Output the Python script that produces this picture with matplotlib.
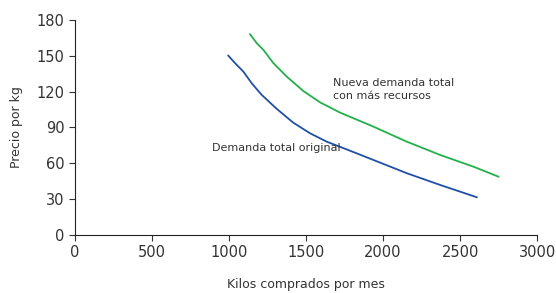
import matplotlib
matplotlib.use('Agg')
import matplotlib.pyplot as plt

plt.rcParams['font.family'] = ['DejaVu Sans']

# Demanda total original
orig_x = [995, 1039, 1093, 1147, 1210, 1310, 1417, 1526, 1634, 1786, 1937, 2154, 2370, 2608]
orig_y = [150.1, 143.8, 136.7, 127, 117.5, 105.5, 94, 85.1, 78.1, 70.5, 62.8, 51.7, 41.9, 31.6]

# Nueva demanda total con más recursos
new_x = [1136, 1180, 1223, 1288, 1375, 1482, 1591, 1721, 1937, 2154, 2370, 2586, 2749]
new_y = [168, 160.5, 154.9, 143.8, 132.5, 120.5, 111, 102.4, 90.7, 78.1, 67, 57.2, 48.8]

xticks = [0, 500, 1000, 1500, 2000, 2500, 3000]
yticks = [0, 30, 60, 90, 120, 150, 180]

fig = plt.figure(figsize=(5.56, 2.93), dpi=100)
ax = fig.add_axes([0.135, 0.198, 0.831, 0.734])

ax.plot(orig_x, orig_y, color='#1f4fa6', lw=1.3)
ax.plot(new_x, new_y, color='#22b04b', lw=1.3)

ax.text(1675, 121.5, 'Nueva demanda total\ncon más recursos', fontsize=8,
        color='#333333', va='center', ha='left', linespacing=1.35)
ax.text(890, 73, 'Demanda total original', fontsize=8,
        color='#333333', va='center', ha='left')

ax.set_xlim(0, 3000)
ax.set_ylim(0, 180)
ax.set_xticks(xticks)
ax.set_yticks(yticks)
ax.tick_params(labelsize=10.5, colors='#333333', length=4, width=0.8)
ax.spines['top'].set_visible(False)
ax.spines['right'].set_visible(False)
ax.spines['left'].set_color('#222222')
ax.spines['bottom'].set_color('#222222')

ax.set_xlabel('Kilos comprados por mes', fontsize=9, color='#333333', labelpad=13)
ax.set_ylabel('Precio por kg', fontsize=9, color='#333333', labelpad=10)

fig.savefig('out.png', dpi=100)
